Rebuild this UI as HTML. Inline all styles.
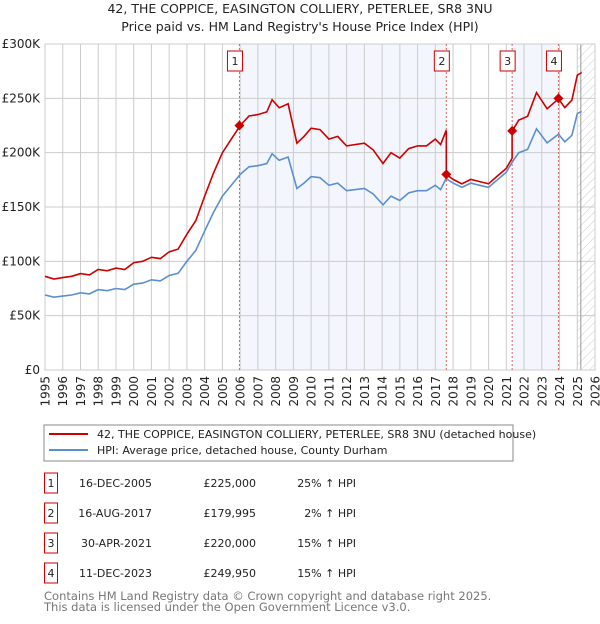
<!DOCTYPE html>
<html><head><meta charset="utf-8"><style>
body{margin:0;background:#fff;font-family:"DejaVu Sans","Liberation Sans",sans-serif;}
svg text{font-family:"DejaVu Sans","Liberation Sans",sans-serif;}
</style></head><body>
<svg id="c" width="600" height="620" xmlns="http://www.w3.org/2000/svg">
<defs><pattern id="hatch" width="6" height="6" patternUnits="userSpaceOnUse" patternTransform="rotate(45)"><line x1="0" y1="0" x2="0" y2="6" stroke="#ccc" stroke-width="1"/></pattern></defs>
<text x="300" y="13" text-anchor="middle" font-size="12.5" fill="#222">42, THE COPPICE, EASINGTON COLLIERY, PETERLEE, SR8 3NU</text>
<text x="300" y="31" text-anchor="middle" font-size="12.5" fill="#222">Price paid vs. HM Land Registry's House Price Index (HPI)</text>
<g id="plot"></g>
<rect x="44" y="425" width="469" height="36" fill="#fff" stroke="#888"/>
<line x1="49" y1="434" x2="88" y2="434" stroke="#cc0000" stroke-width="2"/>
<text x="97" y="438" font-size="11" fill="#222">42, THE COPPICE, EASINGTON COLLIERY, PETERLEE, SR8 3NU (detached house)</text>
<line x1="49" y1="450" x2="88" y2="450" stroke="#5b8fd0" stroke-width="2"/>
<text x="97" y="454" font-size="11" fill="#222">HPI: Average price, detached house, County Durham</text>
<g id="table" font-size="11" fill="#222"></g>
<text x="44" y="600" font-size="11.5" fill="#777">Contains HM Land Registry data © Crown copyright and database right 2025.</text>
<text x="44" y="611" font-size="11.5" fill="#777">This data is licensed under the Open Government Licence v3.0.</text>
</svg>
<script>
const hpiYears=[1995.0,1995.5,1996,1996.5,1997,1997.5,1998,1998.5,1999,1999.5,2000,2000.5,2001,2001.5,2002,2002.5,2003,2003.5,2004,2004.5,2005,2005.5,2006,2006.5,2007,2007.5,2007.8,2008.2,2008.7,2009.2,2009.6,2010,2010.5,2011,2011.5,2012,2012.5,2013,2013.5,2014.05,2014.5,2015,2015.5,2016,2016.5,2017,2017.3,2017.6,2018,2018.5,2019,2019.5,2020,2020.5,2021,2021.33,2021.7,2022.2,2022.7,2023.3,2023.94,2024.3,2024.7,2025.0,2025.25];
const hpiValues=[69,67,68,69,71,70,74,73,75,74,79,80,83,82,87,89,100,110,128,145,160,170,180,187,188,190,199,193,196,167,172,178,177,170,172,165,166,167,162,152,160,156,163,165,165,170,166,176,172,168,172,170,168,175,182,191,200,203,222,209,217,210,216,236,238];
const saleYears=[2005.96,2017.62,2021.33,2023.94];
const salePrices=[225000,179995,220000,249950];
const saleDates=["16-DEC-2005","16-AUG-2017","30-APR-2021","11-DEC-2023"];
const salePriceLabels=["£225,000","£179,995","£220,000","£249,950"];
const salePct=["25% \u2191 HPI","2% \u2191 HPI","15% \u2191 HPI","15% \u2191 HPI"];
const segRatios=[1.25,1.25,1.02,1.15,1.15];
const yTicks=[0,50000,100000,150000,200000,250000,300000];
const yTickLabels=["£0","£50K","£100K","£150K","£200K","£250K","£300K"];
const xTicks=[];for(let y=1995;y<=2026;y++)xTicks.push(y);

const NS="http://www.w3.org/2000/svg";
const X0=45,X1=595,Y0=370,Y1=44;
const xs=v=>X0+(v-1995)/31*(X1-X0);
const ys=v=>Y0-v/300000*(Y0-Y1);
const plot=document.getElementById('plot');
function mk(tag,attrs,parent){const e=document.createElementNS(NS,tag);for(const k in attrs)e.setAttribute(k,attrs[k]);(parent||plot).appendChild(e);return e;}

let e;
e=mk('rect',{x:X0,y:Y1,width:X1-X0,height:Y0-Y1,fill:'#fff'});


e=mk('rect',{x:xs(saleYears[0]),y:Y1,width:xs(saleYears[1])-xs(saleYears[0]),height:Y0-Y1,fill:'#eef2fc',opacity:0.7});


e=mk('rect',{x:xs(saleYears[2]),y:Y1,width:xs(saleYears[3])-xs(saleYears[2]),height:Y0-Y1,fill:'#eef2fc',opacity:0.7});


e=mk('rect',{x:xs(2025),y:Y1,width:X1-xs(2025),height:Y0-Y1,fill:'url(#hatch)'});


xTicks.forEach(t=>{
 e=mk('line',{x1:xs(t),x2:xs(t),y1:Y1,y2:Y0,stroke:'#ccc','stroke-width':1});
 
 
 const tx=xs(t)+4.5,ty=Y0+6;
 e=mk('text',{x:tx,y:ty,'text-anchor':'end','font-size':12,fill:'#222',transform:`rotate(-90 ${tx} ${ty})`});
 e.textContent=t;
 
 
});
yTicks.forEach((t,i)=>{
 e=mk('line',{x1:X0,x2:X1,y1:ys(t),y2:ys(t),stroke:'#ccc','stroke-width':1});
 
 
 e=mk('text',{x:X0-5,y:ys(t)+4,'text-anchor':'end','font-size':12,fill:'#222'});
 e.textContent=yTickLabels[i];
 
 
});
e=mk('line',{x1:xs(2025.2),x2:xs(2025.2),y1:Y1,y2:Y0,stroke:'#999','stroke-width':1});


e=mk('rect',{x:X0,y:Y1,width:X1-X0,height:Y0-Y1,fill:'none',stroke:'#ccc'});


saleYears.forEach((s,i)=>{
 e=mk('line',{x1:xs(s),x2:xs(s),y1:Y1,y2:Y0,stroke:'#e06060','stroke-width':1,'stroke-dasharray':'2,2'});
 
 
 e=mk('rect',{x:xs(s)-12,y:51,width:15,height:20,fill:'#fff',stroke:'#cc0000'});
 
 
 e=mk('text',{x:xs(s)-4.5,y:65,'text-anchor':'middle','font-size':11,fill:'#222'});
 e.textContent=i+1;
 
 
});
function interp(t){for(let i=0;i<hpiYears.length-1;i++){if(t>=hpiYears[i]&&t<=hpiYears[i+1]){const f=(t-hpiYears[i])/(hpiYears[i+1]-hpiYears[i]);return hpiValues[i]+f*(hpiValues[i+1]-hpiValues[i]);}}return hpiValues[hpiValues.length-1];}
let d=hpiYears.map((t,i)=>(i?'L':'M')+xs(t).toFixed(1)+','+ys(hpiValues[i]*1000).toFixed(1)).join('');
e=mk('path',{d:d,fill:'none',stroke:'#5b8fd0','stroke-width':1.6});


function seg(t){let k=0;while(k<saleYears.length&&t>=saleYears[k])k++;return k;}
let pts=[];
for(let i=0;i<hpiYears.length;i++){
 const t=hpiYears[i];
 saleYears.forEach((s,k)=>{if(s>(i?hpiYears[i-1]:0)&&s<=t){pts.push([s,interp(s)*1000*segRatios[k]]);pts.push([s,salePrices[k]]);}});
 pts.push([t,hpiValues[i]*1000*segRatios[seg(t)]]);
}
d=pts.map((p,i)=>(i?'L':'M')+xs(p[0]).toFixed(1)+','+ys(p[1]).toFixed(1)).join('');
e=mk('path',{d:d,fill:'none',stroke:'#cc0000','stroke-width':1.6});


saleYears.forEach((s,i)=>{
 const cx=xs(s),cy=ys(salePrices[i]);
 e=mk('path',{d:`M${cx},${cy-5}L${cx+5},${cy}L${cx},${cy+5}L${cx-5},${cy}Z`,fill:'#cc0000'});
 
 
});
const tb=document.getElementById('table');
const rowY=[483,513,543,573];
saleYears.forEach((s,i)=>{
 const y=rowY[i];
 e=mk('rect',{x:44.5,y:y-10,width:13,height:20,fill:'#fff',stroke:'#cc0000'},tb);
 
 
 e=mk('text',{x:51,y:y+4,'text-anchor':'middle'},tb);e.textContent=i+1;
 
 
 e=mk('text',{x:152,y:y+4,'text-anchor':'end'},tb);e.textContent=saleDates[i];
 
 
 e=mk('text',{x:256,y:y+4,'text-anchor':'end'},tb);e.textContent=salePriceLabels[i];
 
 
 e=mk('text',{x:356,y:y+4,'text-anchor':'end'},tb);e.textContent=salePct[i];
 
 
});
</script>
</body></html>
